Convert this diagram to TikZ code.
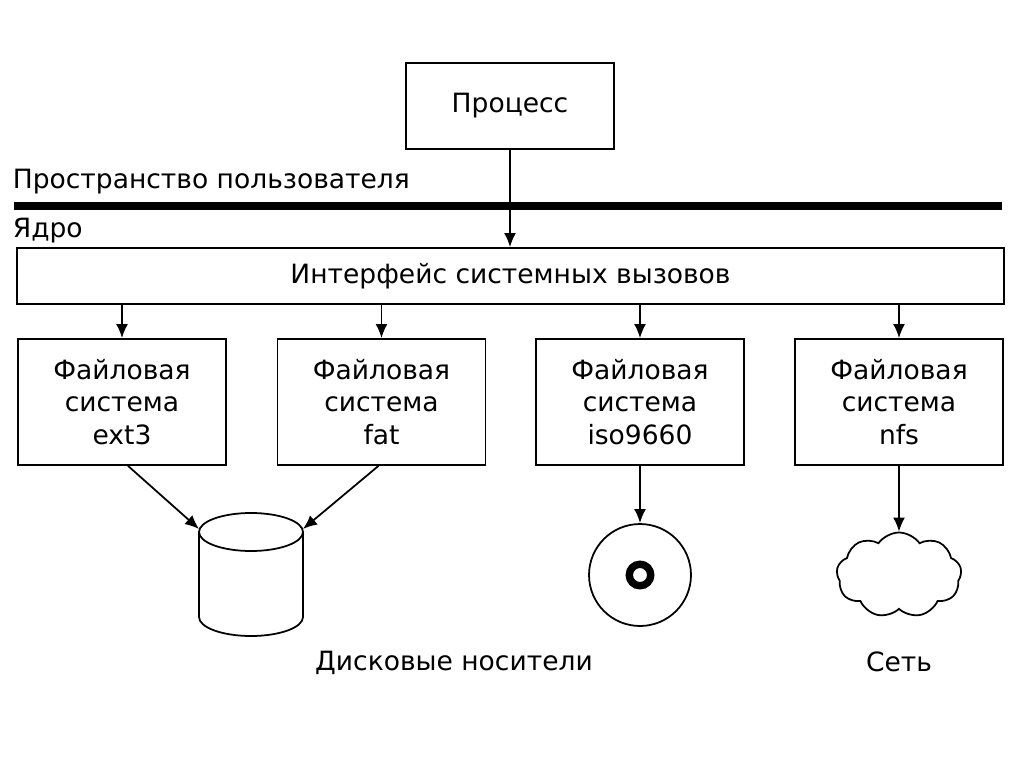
\documentclass[tikz,border=0pt]{standalone}
\usepackage{fontspec}
\setmainfont{DejaVu Sans}
\usetikzlibrary{arrows.meta,shapes.symbols}
\begin{document}
\begin{tikzpicture}[x=0.02cm,y=-0.02cm,
  box/.style={draw,line width=1pt,inner sep=0pt,align=center,
    font=\fontsize{15.1}{18.5}\selectfont},
  fsbox/.style={box,minimum width=4.16cm,minimum height=2.52cm},
  arr/.style={line width=1pt,-{Latex[length=8pt,width=6.8pt]}},
  lbl/.style={inner sep=0pt,font=\fontsize{15.1}{18.5}\selectfont}]
\useasboundingbox (0,0) rectangle (1024,767);
% user space / kernel
\node[box,minimum width=4.16cm,minimum height=1.72cm] (proc) at (510,106) {Процесс};
\node[lbl,anchor=base west] (user) at (12.5,188) {Пространство пользователя};
\node[lbl,anchor=base west] (kern) at (12.5,237) {Ядро};
\coordinate (barL) at (14,206);
\coordinate (barR) at (1002,206);
\draw[line width=4.5pt] (barL) -- (barR);
\node[box,minimum width=19.74cm,minimum height=1.12cm] (iface) at (510.5,276) {Интерфейс системных вызовов};
\draw[arr] (proc.south) -- (iface.north -| proc.south);
% file systems
\node[fsbox] (ext3) at (122,402) {Файловая\\система\\ext3};
\node[fsbox] (fat) at (381.5,402) {Файловая\\система\\fat};
\node[fsbox] (iso) at (640,402) {Файловая\\система\\iso9660};
\node[fsbox] (nfs) at (899,402) {Файловая\\система\\nfs};
\foreach \n in {ext3,fat,iso,nfs}
  \draw[arr] (iface.south -| \n.north) -- (\n.north);
% disk cylinder
\coordinate (cylL) at (199,529);
\coordinate (cylR) at (303,529);
\draw[line width=1pt] (251,532) ellipse[x radius=52,y radius=19];
\draw[line width=1pt] (199,532) -- (199,617) arc[start angle=180,end angle=0,x radius=52,y radius=19] -- (303,532);
\draw[arr] ([xshift=0.12cm]ext3.south) -- (cylL);
\draw[arr] ([xshift=-0.06cm]fat.south) -- (cylR);
% CD disc
\node[draw,circle,line width=1pt,minimum size=2.04cm,inner sep=0pt] (disc) at (640,575) {};
\node[draw,circle,line width=4.2pt,minimum size=0.43cm,inner sep=0pt] (hole) at (640,575) {};
\draw[arr] (iso.south) -- (disc.north);
% network cloud
\node[draw,cloud,cloud puffs=9,cloud puff arc=110,aspect=1.45,line width=1pt,
  minimum width=2.5cm,minimum height=1.7cm,inner sep=0pt] (net) at (899,575) {};
\draw[arr] (nfs.south) -- (nfs.south |- net.north);
% captions
\node[lbl,anchor=base] (disks) at (454,670) {Дисковые носители};
\node[lbl,anchor=base] (netlbl) at (899,671) {Сеть};
\end{tikzpicture}
\end{document}
